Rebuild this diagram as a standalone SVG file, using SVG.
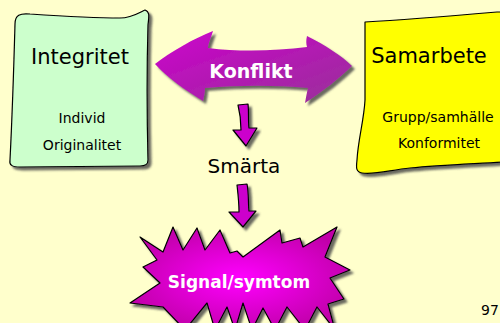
<svg xmlns="http://www.w3.org/2000/svg" width="500" height="323" viewBox="0 0 500 323">
  <defs>
    <filter id="sh" x="-10%" y="-10%" width="130%" height="130%">
      <feDropShadow dx="3" dy="3" stdDeviation="1.2" flood-color="#444" flood-opacity="0.8"/>
    </filter>
    <linearGradient id="gArrow" x1="0" y1="0" x2="1" y2="1">
      <stop offset="0" stop-color="#CC00CC"/>
      <stop offset="1" stop-color="#993399"/>
    </linearGradient>
    <radialGradient id="gBurst" cx="0.5" cy="0.5" r="0.55">
      <stop offset="0" stop-color="#FF00FF"/>
      <stop offset="1" stop-color="#C000A8"/>
    </radialGradient>
  </defs>
  <style>
    .shape { stroke: #000; stroke-width: 1.2; stroke-linejoin: round; filter: url(#sh); }
    .t { font-family: "DejaVu Sans", "Liberation Sans", sans-serif; fill: #000; text-anchor: middle; }
    .w { font-family: "DejaVu Sans", "Liberation Sans", sans-serif; fill: #fff; font-weight: bold; text-anchor: middle; }
  </style>
  <rect width="500" height="323" fill="#FFFFCC"/>

  <g id="integritet">
    <path class="shape" fill="#CCFFCC" d="M 15,24 C 15,15 20,13 30,14 C 60,16 90,18 120,18 C 132,18 140,12 145,10 C 150,12 149,16 148,25 C 147,60 147,120 148,160 C 148,165 145,166 140,166 L 20,167 C 12,167 9,165 10,160 C 12,120 14,60 15,24 Z"/>
    <text class="t" x="80" y="64" font-size="21">Integritet</text>
    <text class="t" x="82" y="123" font-size="14">Individ</text>
    <text class="t" x="82" y="150" font-size="14">Originalitet</text>
  </g>

  <g id="samarbete">
    <path class="shape" fill="#FFFF00" d="M 365,22 C 400,20 450,16 497,12 L 503,12 L 503,162 C 470,164 440,165 410,168 C 390,170 375,175 362,173 C 356,172 356,168 357,160 C 358,140 364,120 365,100 Z"/>
    <text class="t" x="429" y="63" font-size="21">Samarbete</text>
    <text class="t" x="438" y="122" font-size="14">Grupp/samhälle</text>
    <text class="t" x="439" y="148" font-size="14">Konformitet</text>
  </g>

  <g id="konflikt">
    <path fill="url(#gArrow)" filter="url(#sh)" d="M 155,64 C 170,52 195,38 213,31 C 211,38 208,44 208,48 C 240,52 275,51 307,47 C 306,44 306,40 307,36 C 325,45 342,56 352,66 C 340,78 322,92 305,103 C 306,97 307,92 308,88 C 275,85 240,85 205,88 C 205,92 204,97 203,101 C 185,90 168,78 155,64 Z"/>
    <text class="w" x="251" y="78" font-size="19">Konflikt</text>
  </g>

  <g id="smarta">
    <text class="t" x="244" y="173" font-size="20">Smärta</text>
  </g>

  <g id="signal">
    <path class="shape" fill="url(#gBurst)" d="M 140,237 L 163,252 L 173,227 L 183,250 L 197,228 L 205,250 L 220,230 L 230,253 L 237,251 L 243,257 L 280,230 L 282,243 L 300,238 L 303,247 L 337,227 L 325,257 L 350,270 L 330,278 L 344,299 L 328,304 L 335,330 L 317,307 L 305,330 L 287,307 L 275,330 L 263,308 L 252,330 L 243,303 L 235,330 L 227,307 L 215,330 L 207,303 L 185,330 L 163,307 L 130,303 L 160,283 L 143,267 L 157,260 Z"/>
    <text class="w" x="239" y="288" font-size="17">Signal/symtom</text>
  </g>

  <g id="connectors">
    <path class="shape" fill="#CC00CC" d="M 238,105 L 248,104 C 249,112 248,120 249,128 L 257,128 L 246,146 L 233,130 L 241,130 C 241,122 240,113 238,105 Z"/>
    <path class="shape" fill="#CC00CC" d="M 237,185 L 247,184 C 249,194 248,203 249,211 L 256,211 L 243,227 L 229,212 L 239,212 C 239,202 238,194 237,185 Z"/>
  </g>

  <text class="t" x="481" y="315" font-size="14" style="text-anchor:start">97</text>
</svg>
